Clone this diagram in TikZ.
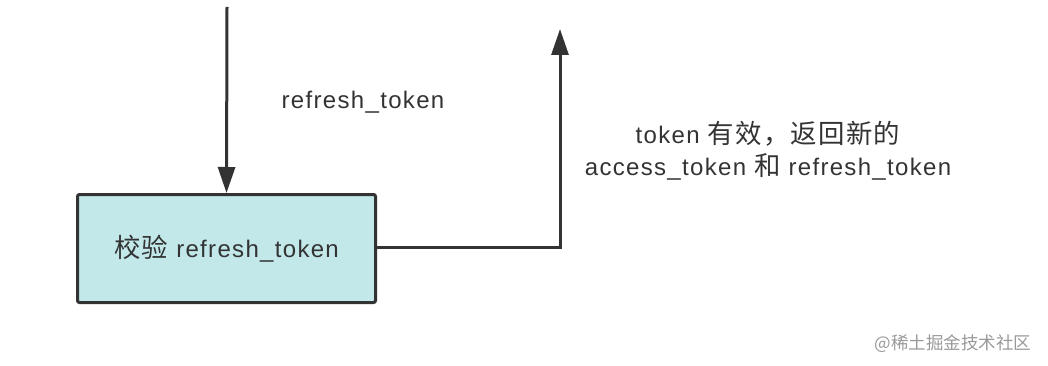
\documentclass[tikz,border=0pt]{standalone}
\usepackage{fontspec}
\setmainfont[LetterSpace=5.5]{Liberation Sans}
\newfontfamily\cjk[Scale=1.1,LetterSpace=5]{Noto Sans CJK SC}
\newfontfamily\cjkwm{Noto Sans CJK SC}
\usetikzlibrary{arrows.meta}
\definecolor{boxfill}{HTML}{C2E8EA}
\definecolor{lineclr}{HTML}{333333}
\definecolor{txt}{HTML}{333333}
\tikzset{
  x=1pt,y=-1pt,
  procbox/.style={draw=lineclr,line width=3pt,fill=boxfill,rounded corners=2pt,minimum width=298pt,minimum height=108pt,inner sep=0pt,text=txt,font=\fontsize{24}{28}\selectfont},
  conn/.style={draw=lineclr,line width=3pt,-{Triangle[length=26pt,width=17pt]}},
  lbl/.style={text=txt,font=\fontsize{24}{32}\selectfont,align=center},
  wm/.style={text=black!40,font=\fontsize{17.5}{20}\selectfont}
}
\begin{document}
\begin{tikzpicture}
\useasboundingbox (0,0) rectangle (1048,366);
\node[procbox] (chk) at (226.5,248.5) {{\cjk 校验} refresh\_token};
\coordinate (top) at (227,7);
\coordinate (corner) at (560,247);
\coordinate (end) at (560,29);
\draw[conn] (top) -- (chk.north);
\draw[conn] (chk.east |- corner) -- (corner) -- (end);
\node[lbl] (l1) at (363,102) {refresh\_token};
\node[lbl] (l2) at (768,151) {token {\cjk 有效，返回新的}\\access\_token {\cjk 和} refresh\_token};
\node[wm,anchor=east] (w) at (1035,344) {\cjkwm @稀土掘金技术社区};
\end{tikzpicture}
\end{document}
